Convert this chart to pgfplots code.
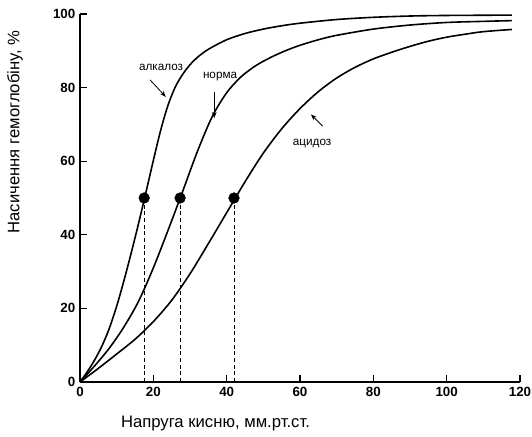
\documentclass[border=0pt]{standalone}
\usepackage{fontspec}
\setmainfont{Liberation Sans}
\usepackage{pgfplots}
\pgfplotsset{compat=1.18}
\usetikzlibrary{arrows.meta}

\begin{document}
\begin{tikzpicture}
\useasboundingbox (-60pt,-40.5pt) rectangle (339pt,286.5pt);
\begin{axis}[
  at={(0,0)}, anchor=south west,
  x=2.75pt, y=2.76pt,
  xmin=0, xmax=120, ymin=0, ymax=100,
  axis lines=left,
  axis line style={-, line width=0.9pt},
  tick align=inside,
  major tick length=5pt,
  tick style={line width=0.8pt, black},
  xtick={0,20,...,120}, ytick={0,20,...,100},
  ticklabel style={font=\fontsize{10}{12}\selectfont\bfseries, /pgf/number format/assume math mode=true},
  clip=false,
]
% alkalosis
\addplot[smooth, tension=0.5, line width=1.2pt] coordinates {
  (0,0) (2,2.8) (4,6.0) (6,9.8) (8,14.6) (10,20.6) (12,27.6) (14,35.2)
  (16,43.2) (18,51.6) (20,60.2) (22,68.4) (24,75.2) (26,80.2) (28,83.6)
  (30,86.2) (32,88.2) (35,90.4) (40,93.0) (45,94.7) (50,95.9) (55,96.8)
  (60,97.5) (70,98.5) (80,99.1) (90,99.45) (100,99.6) (117.8,99.7)
};
% norm
\addplot[smooth, tension=0.5, line width=1.2pt] coordinates {
  (0,0) (4,4.4) (8,9.2) (12,15.0) (16,22.0) (20,31.0) (24,41.2) (28,51.8)
  (32,62.6) (36,72.0) (40,78.6) (44,83.0) (48,86.0) (52,88.2) (56,90.0)
  (60,91.5) (65,93.0) (70,94.2) (80,95.9) (90,97.0) (100,97.7) (110,98.0)
  (117.8,98.2)
};
% acidosis
\addplot[smooth, tension=0.5, line width=1.2pt] coordinates {
  (0,0) (5,3.7) (10,7.6) (15,11.6) (20,16.4) (25,22.2) (30,29.4) (35,37.6)
  (40,46.0) (45,54.4) (50,62.2) (55,68.8) (60,74.3) (65,78.9) (70,82.6)
  (75,85.5) (80,87.8) (85,89.6) (90,91.2) (95,92.6) (100,93.7) (105,94.5)
  (110,95.2) (117.8,95.8)
};
% P50 drop lines
\addplot[line width=0.6pt, dash pattern=on 3pt off 2pt] coordinates {(17.5,0) (17.5,50)};
\addplot[line width=0.6pt, dash pattern=on 3pt off 2pt] coordinates {(27.3,0) (27.3,50)};
\addplot[line width=0.6pt, dash pattern=on 3pt off 2pt] coordinates {(42,0) (42,50)};
\addplot[only marks, mark=*, mark size=4pt] coordinates {(17.5,50) (27.3,50) (42,50)};

\node[font=\fontsize{8.8}{10}\selectfont] at (axis cs:22.1,85.6) {алкалоз};
\draw[-{Stealth[length=4.5pt,width=3.5pt]}, line width=0.6pt] (axis cs:19.1,82.1) -- (axis cs:23.4,77.5);
\node[font=\fontsize{8.8}{10}\selectfont] at (axis cs:38.2,82.9) {норма};
\draw[-{Stealth[length=4.5pt,width=3.5pt]}, line width=0.6pt] (axis cs:36.6,78.9) -- (axis cs:36.6,71.7);
\node[font=\fontsize{8.8}{10}\selectfont] at (axis cs:63.3,64.9) {ацидоз};
\draw[-{Stealth[length=4.5pt,width=3.5pt]}, line width=0.6pt] (axis cs:66.2,69.5) -- (axis cs:63,72.7);
\end{axis}
\node[font=\fontsize{12.5}{14}\selectfont] at (101.6pt,-30.75pt) {Напруга кисню, мм.рт.ст.};
\node[font=\fontsize{12.5}{14}\selectfont, rotate=90] at (-48.75pt,187.5pt) {Насичення гемоглобіну, \%};
\end{tikzpicture}
\end{document}
